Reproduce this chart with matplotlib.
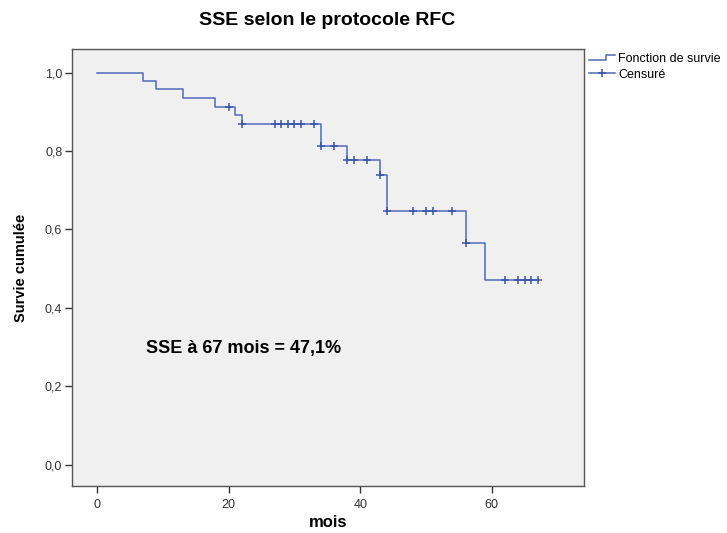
import matplotlib
matplotlib.use('Agg')
import matplotlib.pyplot as plt
import numpy as np
from matplotlib.lines import Line2D
from matplotlib.legend_handler import HandlerBase
from matplotlib.ticker import FuncFormatter

plt.rcParams['font.family'] = ['Liberation Sans', 'DejaVu Sans']

# Kaplan-Meier step curve
step_times = [0, 7, 9, 13, 18, 21, 22, 34, 38, 43, 44, 56, 59]
step_surv = [1.0, 0.978, 0.957, 0.935, 0.913, 0.891, 0.870, 0.812, 0.776,
             0.740, 0.647, 0.566, 0.471]
last_time = 67

# censored observations (months)
censor_times = [20, 22, 27, 28, 29, 30, 31, 33, 34, 36, 38, 39, 41, 43, 44,
                48, 50, 51, 54, 56, 62, 64, 65, 66, 67]

title = 'SSE selon le protocole RFC'
note = 'SSE à 67 mois = 47,1%'
x_ticks = [0, 20, 40, 60]
y_ticks = [0.0, 0.2, 0.4, 0.6, 0.8, 1.0]

line_color = '#5069bb'
mark_color = '#3a54a8'


class StepHandler(HandlerBase):
    # draws the little step icon SPSS uses in its legend
    def create_artists(self, legend, orig_handle, xdescent, ydescent,
                       width, height, fontsize, trans):
        xs = [0, width * 0.65, width * 0.65, width]
        ys = [height * 0.25, height * 0.25, height * 0.85, height * 0.85]
        ln = Line2D(xs, ys, color=line_color, lw=1.1, transform=trans)
        return [ln]


fig = plt.figure(figsize=(7.27, 5.33), dpi=100)
ax = fig.add_axes([72 / 727, 1 - 486 / 533, (584 - 72) / 727, (486 - 49) / 533])
ax.set_facecolor('#f0f0f0')

xs = list(step_times) + [last_time]
ys = list(step_surv) + [step_surv[-1]]
ax.step(xs, ys, where='post', color=line_color, lw=1.1)

# censor marks sit on the curve
idx = np.searchsorted(step_times, censor_times, side='right') - 1
cens_y = np.array(step_surv)[idx]
ax.plot(censor_times, cens_y, linestyle='none', marker='+', markersize=6,
        mew=1.1, color=mark_color)

ax.set_xlim(-3.8, 74.0)
ax.set_ylim(-0.054, 1.06)
ax.set_xticks(x_ticks)
ax.set_yticks(y_ticks)
ax.yaxis.set_major_formatter(FuncFormatter(lambda v, p: ('%.1f' % v).replace('.', ',')))
ax.tick_params(direction='out', length=5, width=1, labelsize=9, colors='#333333',
               pad=2)
ax.tick_params(axis='x', pad=4)
for sp in ax.spines.values():
    sp.set_color('#555555')
    sp.set_linewidth(1.0)

ax.set_xlabel('mois', fontsize=12, fontweight='bold', va='baseline')
ax.xaxis.set_label_coords(0.5, (486 - 527) / 437)
ax.set_ylabel('Survie cumulée', fontsize=10.5, fontweight='bold', va='center')
ax.yaxis.set_label_coords((21 - 72) / 512, 0.5)
fig.text(327 / 727, 1 - 25 / 533, title, ha='center', va='baseline',
         fontsize=14, fontweight='bold')

ax.text(7.45, 0.285, note, fontsize=13, fontweight='bold', va='baseline')

h_step = Line2D([], [], color=line_color)
h_cens = Line2D([], [], color=line_color, lw=1.1, marker='+', markersize=6,
                mew=1.1, markeredgecolor=mark_color)
leg = fig.legend([h_step, h_cens], ['Fonction de survie', 'Censuré'],
                 handler_map={h_step: StepHandler()},
                 loc='upper left', bbox_to_anchor=(586 / 727, 1 - 51 / 533),
                 frameon=False, fontsize=9, handlelength=2.1, handletextpad=0.3,
                 labelspacing=0.25, borderaxespad=0, borderpad=0.2)

fig.savefig('out.png', dpi=100)
